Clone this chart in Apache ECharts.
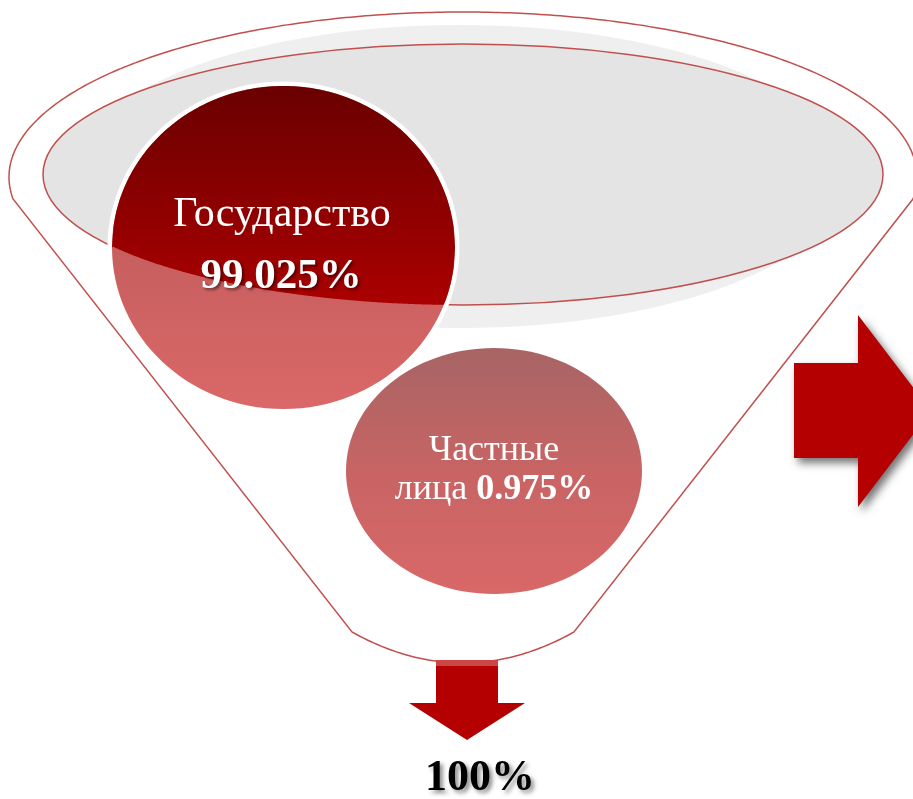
<!DOCTYPE html>
<html>
<head>
<meta charset="utf-8">
<script src="https://cdn.jsdelivr.net/npm/echarts@6/dist/echarts.min.js"></script>
<style>
html,body{margin:0;padding:0;background:#fff;}
#chart{width:913px;height:799px;}
</style>
</head>
<body>
<div id="chart"></div>
<script>
// ---- data ----
var categories = ['Государство', 'Частные лица'];
var shares = [99.025, 0.975];
var totalLabel = '100%';

function pct(v) { return v.toFixed(3) + '%'; }

// ---- geometry helpers (layout only) ----
var RED = '#c0504d';
var outer = { cx: 463, cy: 177, rx: 454, ry: 165 };
var inner = { cx: 463, cy: 174.5, rx: 420, ry: 130.5 };
var big = { cx: 283.5, cy: 247.5, rx: 171.5, ry: 161.5 };
var small = { cx: 494, cy: 471, rx: 148, ry: 123 };

function grad(stops) {
  return { type: 'linear', x: 0, y: 0, x2: 0, y2: 1, colorStops: stops, global: false };
}

function funnelOutline() {
  var pts = [];
  var tL = Math.atan2((199 - outer.cy) / outer.ry, (13 - outer.cx) / outer.rx);
  var tR = Math.atan2((199 - outer.cy) / outer.ry, (913 - outer.cx) / outer.rx);
  var t0 = tL, t1 = tR + 2 * Math.PI;
  var n = 300;
  for (var i = 0; i <= n; i++) {
    var t = t0 + (t1 - t0) * i / n;
    pts.push([outer.cx + outer.rx * Math.cos(t), outer.cy + outer.ry * Math.sin(t)]);
  }
  pts.push([574, 632]);
  var m = 60;
  for (var j = 1; j < m; j++) {
    var u = j / m;
    var x = (1 - u) * (1 - u) * 574 + 2 * u * (1 - u) * 463 + u * u * 352;
    var y = (1 - u) * (1 - u) * 632 + 2 * u * (1 - u) * 694 + u * u * 632;
    pts.push([x, y]);
  }
  pts.push([352, 632]);
  return pts;
}

function darkRegion() {
  var n = 240, top = [], bot = [];
  for (var i = 0; i <= n; i++) {
    var x = big.cx - big.rx + (2 * big.rx) * i / n;
    var dx = (x - big.cx) / big.rx;
    var h = big.ry * Math.sqrt(Math.max(0, 1 - dx * dx));
    var yt = big.cy - h, yb = big.cy + h;
    var ex = (x - inner.cx) / inner.rx;
    var eb = inner.cy + inner.ry * Math.sqrt(Math.max(0, 1 - ex * ex));
    var lower = Math.max(yt, Math.min(yb, eb));
    top.push([x, yt]);
    bot.push([x, lower]);
  }
  return top.concat(bot.reverse());
}

var chart = echarts.init(document.getElementById('chart'), null, { renderer: 'canvas' });

var elements = [
  {
    type: 'polygon', z: 1,
    shape: { points: funnelOutline() },
    style: { fill: 'none', stroke: RED, lineWidth: 1.5 }
  },
  { type: 'ellipse', z: 2, shape: { cx: 459.5, cy: 176.5, rx: 386.5, ry: 151.5 }, style: { fill: '#efefef' } },
  { type: 'ellipse', z: 3, shape: { cx: inner.cx, cy: inner.cy, rx: inner.rx, ry: inner.ry }, style: { fill: '#e4e4e4', stroke: RED, lineWidth: 1.5 } },
  { type: 'ellipse', z: 4, shape: { cx: big.cx, cy: big.cy, rx: big.rx + 4.5, ry: big.ry + 4.5 }, style: { fill: '#ffffff' } },
  {
    type: 'ellipse', z: 5, shape: { cx: big.cx, cy: big.cy, rx: big.rx, ry: big.ry },
    style: { fill: grad([{ offset: 0, color: '#b45454' }, { offset: 1, color: '#da6868' }]) }
  },
  {
    type: 'polygon', z: 6, shape: { points: darkRegion() },
    style: { fill: grad([{ offset: 0, color: '#6a0000' }, { offset: 1, color: '#ab0000' }]) }
  },
  { type: 'ellipse', z: 8, shape: { cx: small.cx, cy: small.cy, rx: small.rx + 2, ry: small.ry + 2 }, style: { fill: '#ffffff' } },
  {
    type: 'ellipse', z: 9, shape: { cx: small.cx, cy: small.cy, rx: small.rx, ry: small.ry },
    style: { fill: grad([{ offset: 0, color: '#a86464' }, { offset: 0.5, color: '#c86464' }, { offset: 1, color: '#d96868' }]) }
  },
  {
    type: 'text', z: 20, x: 282, y: 215,
    style: { text: categories[0], fill: '#ffffff', font: '42px "Liberation Serif", serif', align: 'center', verticalAlign: 'middle' }
  },
  {
    type: 'text', z: 20, x: 281, y: 277,
    style: {
      text: pct(shares[0]), fill: '#ffffff', font: 'bold 43px "Liberation Serif", serif', align: 'center', verticalAlign: 'middle',
      textShadowColor: 'rgba(0,0,0,0.5)', textShadowBlur: 3, textShadowOffsetX: 2, textShadowOffsetY: 2
    }
  },
  {
    type: 'text', z: 20, x: 494, y: 451,
    style: { text: categories[1].split(' ')[0], fill: '#ffffff', font: '36px "Liberation Serif", serif', align: 'center', verticalAlign: 'middle' }
  },
  {
    type: 'text', z: 20, x: 494, y: 490,
    style: {
      text: '{r|' + categories[1].split(' ')[1] + ' }{b|' + pct(shares[1]) + '}',
      align: 'center', verticalAlign: 'middle',
      rich: {
        r: { fill: '#ffffff', font: '36px "Liberation Serif", serif' },
        b: { fill: '#ffffff', font: 'bold 36px "Liberation Serif", serif' }
      }
    }
  },
  {
    type: 'polygon', z: 15,
    shape: { points: [[794, 363], [858, 363], [858, 315], [931, 411], [858, 507], [858, 458], [794, 458]] },
    style: { fill: '#b40000', shadowColor: 'rgba(0,0,0,0.55)', shadowBlur: 8, shadowOffsetX: 4, shadowOffsetY: 5 }
  },
  {
    type: 'polygon', z: 15,
    shape: { points: [[436, 660], [498, 660], [498, 703], [525, 703], [467, 740], [409, 703], [436, 703]] },
    style: { fill: '#b40000' }
  },
  { type: 'rect', z: 16, shape: { x: 436, y: 660, width: 62, height: 6 }, style: { fill: 'rgba(230,140,140,0.5)' } },
  {
    type: 'text', z: 20, x: 480, y: 779,
    style: {
      text: totalLabel, fill: '#000000', font: 'bold 44px "Liberation Serif", serif', align: 'center', verticalAlign: 'middle',
      textShadowColor: 'rgba(0,0,0,0.45)', textShadowBlur: 4, textShadowOffsetX: 3, textShadowOffsetY: 3
    }
  }
];

chart.setOption({
  backgroundColor: '#ffffff',
  animation: false,
  graphic: { elements: elements }
});
</script>
</body>
</html>
